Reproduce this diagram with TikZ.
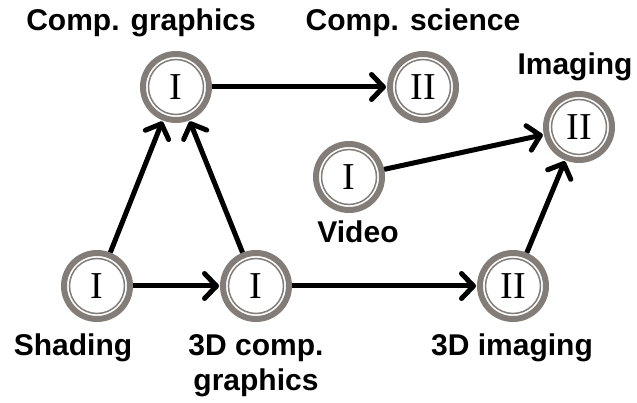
\documentclass[tikz,border=0pt]{standalone}
\usepackage{fontspec}
\setmainfont{Liberation Serif}
\newfontfamily\labfont{Liberation Sans}
\usetikzlibrary{arrows.meta}
\definecolor{ringgray}{RGB}{130,125,120}
\tikzset{
  stage/.style={circle, draw=ringgray, line width=6pt, fill=white, minimum size=66pt, inner sep=0pt,
    font=\fontsize{38}{40}\selectfont,
    path picture={\draw[ringgray,line width=1.5pt] (path picture bounding box.center) circle (27.5pt);}},
  lab/.style={font=\labfont\bfseries\fontsize{30}{35}\selectfont, inner sep=0pt, anchor=base},
  link/.style={line width=5pt, -{Straight Barb[length=12pt,width=25pt,round]}, shorten >=1pt}
}
\begin{document}
\begin{tikzpicture}[x=1pt,y=-1pt]
\useasboundingbox (0,0) rectangle (637,403);
\node[stage] (cg) at (176,87) {I};
\node[stage] (cs) at (423,87) {II};
\node[stage] (im) at (579,127) {II};
\node[stage] (vi) at (349,177) {I};
\node[stage] (sh) at (97,286) {I};
\node[stage] (tcg) at (256,286) {I};
\node[stage] (tdi) at (513,286) {II};
\node[lab] (lcg) at (141,31) {Comp. graphics};
\node[lab] (lcs) at (413,31) {Comp. science};
\node[lab] (lim) at (575,75) {Imaging};
\node[lab] (lvi) at (358,243) {Video};
\node[lab] (lsh) at (73,355) {Shading};
\node[lab, align=center] (ltcg) at (256,390) {3D comp.\\graphics};
\node[lab] (ltdi) at (512,355) {3D imaging};
\draw[link] (sh) -- (cg);
\draw[link] (tcg) -- (cg);
\draw[link] (sh) -- (tcg);
\draw[link] (tcg) -- (tdi);
\draw[link] (cg) -- (cs);
\draw[link] (vi) -- (im);
\draw[link] (tdi) -- (im);
\end{tikzpicture}
\end{document}
